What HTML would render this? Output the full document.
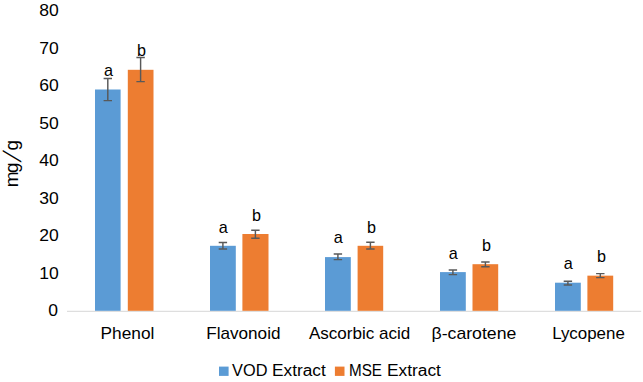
<!DOCTYPE html>
<html lang="en"><head><meta charset="utf-8"><title>Chart</title>
<style>html,body{margin:0;padding:0;background:#fff;}svg{display:block;}text{fill:#000000;}</style></head>
<body>
<svg width="643" height="382" viewBox="0 0 643 382" font-family="'Liberation Sans', sans-serif">
<rect width="643" height="382" fill="#fff"/>
<line x1="67" y1="311.3" x2="641.2" y2="311.3" stroke="#CDCDCD" stroke-width="0.85"/>
<rect x="95.00" y="89.50" width="25.60" height="221.30" fill="#5B9BD5"/>
<rect x="127.80" y="69.80" width="25.70" height="241.00" fill="#ED7D31"/>
<rect x="210.00" y="245.80" width="25.80" height="65.00" fill="#5B9BD5"/>
<rect x="242.40" y="234.00" width="26.10" height="76.80" fill="#ED7D31"/>
<rect x="325.00" y="257.10" width="25.80" height="53.70" fill="#5B9BD5"/>
<rect x="357.60" y="245.80" width="25.60" height="65.00" fill="#ED7D31"/>
<rect x="440.00" y="272.10" width="25.80" height="38.70" fill="#5B9BD5"/>
<rect x="472.50" y="264.20" width="25.70" height="46.60" fill="#ED7D31"/>
<rect x="555.00" y="282.70" width="25.80" height="28.10" fill="#5B9BD5"/>
<rect x="587.40" y="275.65" width="25.80" height="35.15" fill="#ED7D31"/>
<path d="M107.80 78.40V100.60M103.60 78.40h8.4M103.60 100.60h8.4" stroke="#595959" stroke-width="1.45" fill="none"/>
<path d="M140.60 57.50V81.60M136.40 57.50h8.4M136.40 81.60h8.4" stroke="#595959" stroke-width="1.45" fill="none"/>
<path d="M222.90 242.50V248.90M218.70 242.50h8.4M218.70 248.90h8.4" stroke="#595959" stroke-width="1.45" fill="none"/>
<path d="M255.40 230.20V238.20M251.20 230.20h8.4M251.20 238.20h8.4" stroke="#595959" stroke-width="1.45" fill="none"/>
<path d="M337.90 253.90V259.60M333.70 253.90h8.4M333.70 259.60h8.4" stroke="#595959" stroke-width="1.45" fill="none"/>
<path d="M370.40 242.30V248.90M366.20 242.30h8.4M366.20 248.90h8.4" stroke="#595959" stroke-width="1.45" fill="none"/>
<path d="M452.90 269.90V274.60M448.70 269.90h8.4M448.70 274.60h8.4" stroke="#595959" stroke-width="1.45" fill="none"/>
<path d="M485.40 262.00V266.80M481.20 262.00h8.4M481.20 266.80h8.4" stroke="#595959" stroke-width="1.45" fill="none"/>
<path d="M567.90 281.20V284.90M563.70 281.20h8.4M563.70 284.90h8.4" stroke="#595959" stroke-width="1.45" fill="none"/>
<path d="M600.30 273.60V277.60M596.10 273.60h8.4M596.10 277.60h8.4" stroke="#595959" stroke-width="1.45" fill="none"/>
<text x="108.40" y="76.00" font-size="16.2" text-anchor="middle">a</text>
<text x="141.40" y="56.00" font-size="16.2" text-anchor="middle">b</text>
<text x="223.30" y="233.00" font-size="16.2" text-anchor="middle">a</text>
<text x="256.40" y="220.90" font-size="16.2" text-anchor="middle">b</text>
<text x="338.20" y="243.20" font-size="16.2" text-anchor="middle">a</text>
<text x="371.40" y="233.00" font-size="16.2" text-anchor="middle">b</text>
<text x="453.20" y="258.70" font-size="16.2" text-anchor="middle">a</text>
<text x="486.40" y="251.10" font-size="16.2" text-anchor="middle">b</text>
<text x="568.20" y="269.20" font-size="16.2" text-anchor="middle">a</text>
<text x="601.40" y="262.00" font-size="16.2" text-anchor="middle">b</text>
<text x="39.25" y="16.05" font-size="16.5" textLength="19.50" lengthAdjust="spacingAndGlyphs">80</text>
<text x="39.25" y="53.55" font-size="16.5" textLength="19.50" lengthAdjust="spacingAndGlyphs">70</text>
<text x="39.25" y="91.05" font-size="16.5" textLength="19.50" lengthAdjust="spacingAndGlyphs">60</text>
<text x="39.25" y="128.55" font-size="16.5" textLength="19.50" lengthAdjust="spacingAndGlyphs">50</text>
<text x="39.25" y="166.05" font-size="16.5" textLength="19.50" lengthAdjust="spacingAndGlyphs">40</text>
<text x="39.25" y="203.55" font-size="16.5" textLength="19.50" lengthAdjust="spacingAndGlyphs">30</text>
<text x="39.25" y="241.05" font-size="16.5" textLength="19.50" lengthAdjust="spacingAndGlyphs">20</text>
<text x="39.25" y="278.55" font-size="16.5" textLength="19.50" lengthAdjust="spacingAndGlyphs">10</text>
<text x="48.20" y="316.05" font-size="16.5" textLength="9.75" lengthAdjust="spacingAndGlyphs">0</text>
<text x="100.60" y="338.6" font-size="16.2" textLength="53.80" lengthAdjust="spacingAndGlyphs">Phenol</text>
<text x="206.20" y="338.6" font-size="16.2" textLength="74.30" lengthAdjust="spacingAndGlyphs">Flavonoid</text>
<text x="308.90" y="338.6" font-size="16.2" textLength="101.30" lengthAdjust="spacingAndGlyphs">Ascorbic acid</text>
<text x="431.50" y="338.6" font-size="16.2" textLength="84.80" lengthAdjust="spacingAndGlyphs">β-carotene</text>
<text x="552.15" y="338.6" font-size="16.2" textLength="72.65" lengthAdjust="spacingAndGlyphs">Lycopene</text>
<rect x="219" y="366.6" width="9.6" height="9.3" fill="#5B9BD5"/>
<text y="375.7" font-size="16" lengthAdjust="spacingAndGlyphs"><tspan x="232.1" textLength="35.3" lengthAdjust="spacingAndGlyphs">VOD</tspan> <tspan x="272.0" textLength="53.7" lengthAdjust="spacingAndGlyphs">Extract</tspan></text>
<rect x="334.9" y="366.6" width="9.6" height="9.3" fill="#ED7D31"/>
<text y="375.7" font-size="16" lengthAdjust="spacingAndGlyphs"><tspan x="349.0" textLength="33.0" lengthAdjust="spacingAndGlyphs">MSE</tspan> <tspan x="386.9" textLength="54.0" lengthAdjust="spacingAndGlyphs">Extract</tspan></text>
<text transform="translate(18 187.2) rotate(-90)" font-size="19" x="0 14.1">mg<tspan font-size="27.5" x="22.6" dy="4.2" textLength="16.5" lengthAdjust="spacingAndGlyphs" stroke="#fff" stroke-width="1.3">/</tspan><tspan dy="-4.2" x="36.7">g</tspan></text>
</svg>
</body></html>
